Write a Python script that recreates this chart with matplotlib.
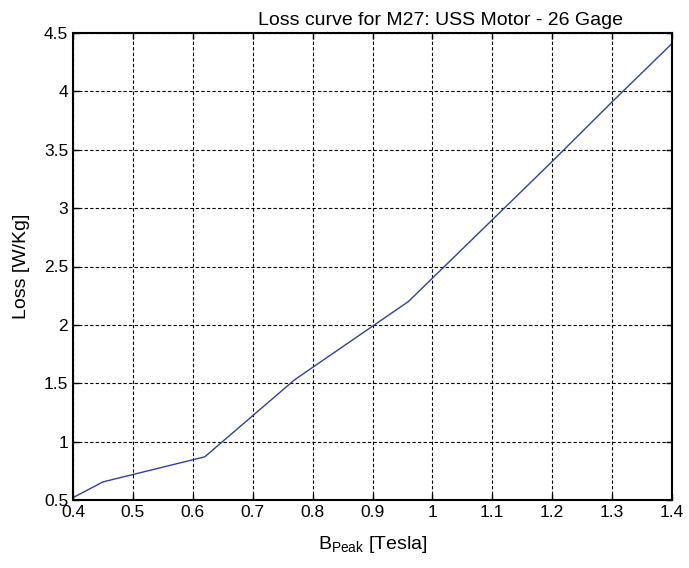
import matplotlib
matplotlib.use("Agg")
import matplotlib.pyplot as plt
import numpy as np

# Loss curve data
b_peak = [0.40, 0.45, 0.62, 0.77, 0.96, 1.10, 1.20, 1.30, 1.40]
loss = [0.52, 0.655, 0.87, 1.53, 2.20, 2.90, 3.40, 3.91, 4.41]

xticks = [0.4, 0.5, 0.6, 0.7, 0.8, 0.9, 1.0, 1.1, 1.2, 1.3, 1.4]
xticklabels = ["0.4", "0.5", "0.6", "0.7", "0.8", "0.9", "1", "1.1", "1.2", "1.3", "1.4"]
yticks = [0.5, 1, 1.5, 2, 2.5, 3, 3.5, 4, 4.5]
yticklabels = ["0.5", "1", "1.5", "2", "2.5", "3", "3.5", "4", "4.5"]

plt.rcParams['font.family'] = ['Liberation Sans', 'DejaVu Sans']
plt.rcParams['mathtext.fontset'] = 'custom'
plt.rcParams['mathtext.rm'] = 'Liberation Sans'
plt.rcParams['mathtext.it'] = 'Liberation Sans:italic'

fig = plt.figure(figsize=(6.89, 5.68), dpi=100)
ax = fig.add_axes([73 / 689, 68 / 568, 599 / 689, 467 / 568])

ax.plot(b_peak, loss, color='#2f3fa3', linewidth=1.0)

ax.set_xlim(0.4, 1.4)
ax.set_ylim(0.5, 4.5)
ax.set_xticks(xticks)
ax.set_xticklabels(xticklabels)
ax.set_yticks(yticks)
ax.set_yticklabels(yticklabels)
ax.tick_params(direction='in', length=4, labelsize=12.5, width=1, top=True, right=True)
ax.grid(True, color='black', linestyle=(0, (3, 2)), linewidth=0.8)
for s in ax.spines.values():
    s.set_linewidth(1.5)

ax.set_title("Loss curve for M27: USS Motor - 26 Gage", fontsize=14, x=0.614, pad=6)
ax.set_xlabel(r"B$_{\mathrm{Peak}}$ [Tesla]", fontsize=14, labelpad=10)
ax.set_ylabel("Loss [W/Kg]", fontsize=14, labelpad=10)

fig.savefig("out.png", dpi=100)
